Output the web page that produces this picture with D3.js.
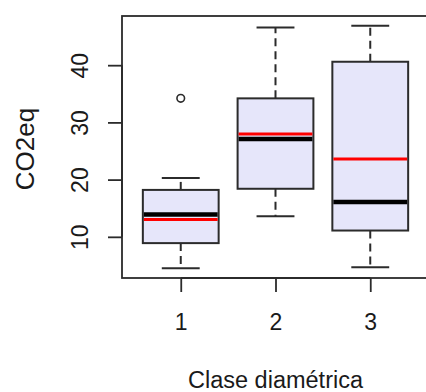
<!DOCTYPE html>
<html>
<head>
<meta charset="utf-8">
<script src="https://cdn.jsdelivr.net/npm/d3@7"></script>
<style>
  html, body { margin: 0; padding: 0; background: #fff; }
  svg { display: block; }
  text { font-family: "Liberation Sans", Arial, sans-serif; fill: #1a1a1a; }
</style>
</head>
<body>
<svg id="chart" width="426" height="392"></svg>
<script>
// Summary statistics of CO2eq per diameter class
const classes = ["1", "2", "3"];
const whiskerLow = [4.5, 13.6, 4.7];
const q1 = [8.9, 18.4, 11.1];
const median = [13.9, 27.1, 16.1];
const q3 = [18.2, 34.2, 40.6];
const whiskerHigh = [20.3, 46.6, 46.9];
const mean = [13.05, 27.96, 23.6];
const outliers = [[34.2], [], []];
const yTicks = [10, 20, 30, 40];

const svg = d3.select("#chart");
const plot = { left: 122, top: 16, right: 429, bottom: 278 };

// R-style axis ranges: 4% padding around the data extent
const allVals = whiskerLow.concat(whiskerHigh, outliers.flat());
const yMin = d3.min(allVals), yMax = d3.max(allVals);
const yPad = (yMax - yMin) * 0.04;
const y = d3.scaleLinear().domain([yMin - yPad, yMax + yPad]).range([plot.bottom, plot.top]);

const xPos = d3.scaleLinear()
  .domain([0.5 - 0.12, classes.length + 0.5 + 0.12])
  .range([plot.left, plot.right]);
const boxW = (xPos(1) - xPos(0)) * 0.8;

const ink = "#2b2b2b";

const data = classes.map((c, i) => ({
  c, i: i + 1,
  lo: whiskerLow[i], q1: q1[i], med: median[i], q3: q3[i], hi: whiskerHigh[i],
  mean: mean[i], out: outliers[i]
}));

const g = svg.append("g");

data.forEach(d => {
  const cx = xPos(d.i);
  // whiskers
  [[d.q3, d.hi], [d.q1, d.lo]].forEach(([a, b]) => {
    g.append("line")
      .attr("x1", cx).attr("x2", cx)
      .attr("y1", y(a)).attr("y2", y(b))
      .attr("stroke", ink).attr("stroke-width", 2)
      .attr("stroke-dasharray", "8,5");
    g.append("line")
      .attr("x1", cx - boxW / 4).attr("x2", cx + boxW / 4)
      .attr("y1", y(b)).attr("y2", y(b))
      .attr("stroke", ink).attr("stroke-width", 2);
  });
  // box
  g.append("rect")
    .attr("x", cx - boxW / 2).attr("width", boxW)
    .attr("y", y(d.q3)).attr("height", y(d.q1) - y(d.q3))
    .attr("fill", "#e6e6fa").attr("stroke", ink).attr("stroke-width", 2);
  // median
  g.append("line")
    .attr("x1", cx - boxW / 2 + 1).attr("x2", cx + boxW / 2 - 1)
    .attr("y1", y(d.med)).attr("y2", y(d.med))
    .attr("stroke", "#000").attr("stroke-width", 4.5);
  // mean
  g.append("line")
    .attr("x1", cx - boxW / 2 + 1).attr("x2", cx + boxW / 2 - 1)
    .attr("y1", y(d.mean)).attr("y2", y(d.mean))
    .attr("stroke", "#ff0000").attr("stroke-width", 3);
  // outliers
  d.out.forEach(v => {
    g.append("circle")
      .attr("cx", cx).attr("cy", y(v)).attr("r", 3.8)
      .attr("fill", "none").attr("stroke", ink).attr("stroke-width", 1.6);
  });
});

// plot frame
svg.append("rect")
  .attr("x", plot.left).attr("y", plot.top)
  .attr("width", plot.right - plot.left).attr("height", plot.bottom - plot.top)
  .attr("fill", "none").attr("stroke", ink).attr("stroke-width", 1.8);

// y axis
const yAxis = svg.append("g")
  .attr("transform", `translate(${plot.left},0)`)
  .call(d3.axisLeft(y).tickValues(yTicks).tickSize(14).tickFormat(d3.format("d")));
yAxis.select(".domain").attr("stroke", ink).attr("stroke-width", 1.8)
  .attr("d", `M0,${y(yTicks[0])}V${y(yTicks[yTicks.length - 1])}`);
yAxis.selectAll(".tick line").attr("stroke", ink).attr("stroke-width", 1.8);
yAxis.selectAll(".tick text")
  .attr("x", null).attr("dy", null)
  .attr("text-anchor", "middle")
  .attr("transform", "translate(-34,0) rotate(-90)")
  .style("font-size", "23px").style("font-family", "'Liberation Sans', Arial, sans-serif")
  .attr("fill", "#1a1a1a");

// x axis
const xAxis = svg.append("g")
  .attr("transform", `translate(0,${plot.bottom})`)
  .call(d3.axisBottom(xPos).tickValues(data.map(d => d.i)).tickSize(14)
    .tickFormat(v => classes[v - 1]));
xAxis.select(".domain").attr("stroke", ink).attr("stroke-width", 1.8)
  .attr("d", `M${xPos(1)},0H${xPos(classes.length)}`);
xAxis.selectAll(".tick line").attr("stroke", ink).attr("stroke-width", 1.8);
xAxis.selectAll(".tick text")
  .attr("y", 52).attr("dy", null)
  .style("font-size", "23px").style("font-family", "'Liberation Sans', Arial, sans-serif")
  .attr("fill", "#1a1a1a");

// axis titles
svg.append("text")
  .attr("x", (plot.left + plot.right) / 2).attr("y", 388)
  .attr("text-anchor", "middle").style("font-size", "23.5px")
  .text("Clase diamétrica");
svg.append("text")
  .attr("transform", `translate(34,${(plot.top + plot.bottom) / 2 + 2}) rotate(-90)`)
  .attr("text-anchor", "middle").style("font-size", "26px")
  .text("CO2eq");
</script>
</body>
</html>
